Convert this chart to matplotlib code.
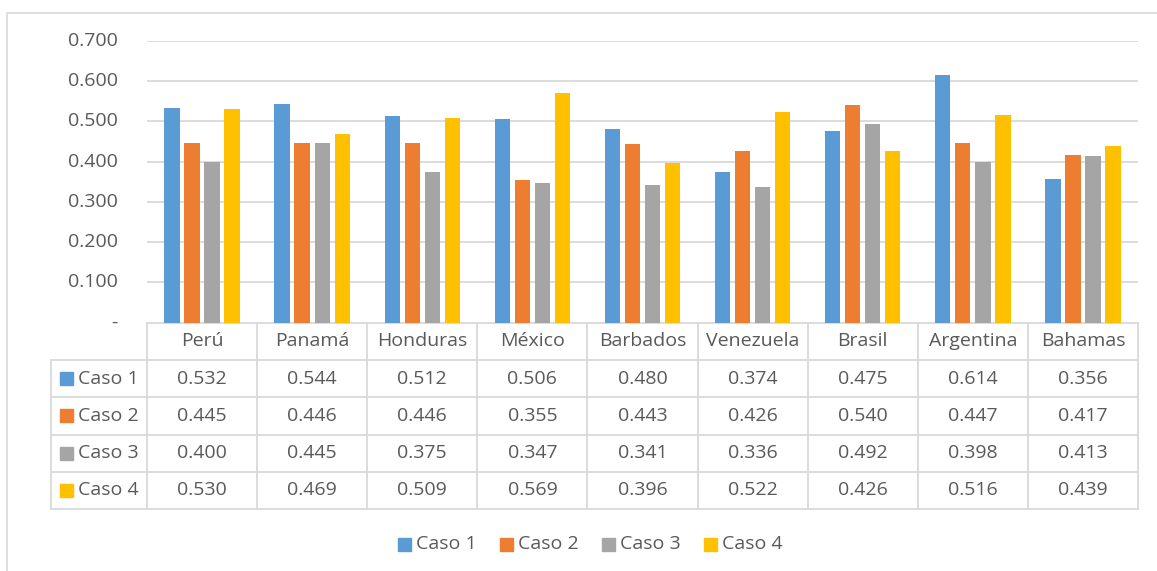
import matplotlib
matplotlib.use("Agg")
import matplotlib.pyplot as plt
from matplotlib.transforms import blended_transform_factory
from matplotlib.patches import Rectangle
import numpy as np

countries = ["Perú", "Panamá", "Honduras", "México", "Barbados", "Venezuela", "Brasil", "Argentina", "Bahamas"]
series_names = ["Caso 1", "Caso 2", "Caso 3", "Caso 4"]
caso1 = [0.532, 0.544, 0.512, 0.506, 0.480, 0.374, 0.475, 0.614, 0.356]
caso2 = [0.445, 0.446, 0.446, 0.355, 0.443, 0.426, 0.540, 0.447, 0.417]
caso3 = [0.400, 0.445, 0.375, 0.347, 0.341, 0.336, 0.492, 0.398, 0.413]
caso4 = [0.530, 0.469, 0.509, 0.569, 0.396, 0.522, 0.426, 0.516, 0.439]
yticks = [0.0, 0.1, 0.2, 0.3, 0.4, 0.5, 0.6, 0.7]
ytick_labels = ["-", "0.100", "0.200", "0.300", "0.400", "0.500", "0.600", "0.700"]

colors = ["#5B9BD5", "#ED7D31", "#A5A5A5", "#FFC000"]
txt = "#595959"
grid = "#D9D9D9"
FONT = "Open Sans"
FS = 14

W, H = 1157, 571
fig = plt.figure(figsize=(W / 100, H / 100), dpi=100)

# overlay in pixel coords
ov = fig.add_axes([0, 0, 1, 1])
ov.set_xlim(0, W)
ov.set_ylim(H, 0)
ov.axis("off")

# chart border
ov.plot([7, 7, W + 5], [H + 5, 13, 13], color=grid, lw=1.2, clip_on=False)

# bar axes
x0, x1 = 147, 1138
ytop, ybot = 40.7, 322.7
ax = fig.add_axes([x0 / W, 1 - ybot / H, (x1 - x0) / W, (ybot - ytop) / H])
ax.set_xlim(0, len(countries))
ax.set_ylim(0, 0.7)
ax.patch.set_alpha(0)
for s in ax.spines.values():
    s.set_visible(False)
ax.set_yticks(yticks)
ax.set_yticklabels([])
ax.tick_params(length=0)
ax.set_xticks([])
for y in yticks[1:]:
    ax.axhline(y, color=grid, lw=1.3, zorder=0)

data = [caso1, caso2, caso3, caso4]
bw = 0.139
step = 0.182
xc = np.arange(len(countries)) + 0.5
for i, vals in enumerate(data):
    ax.bar(xc + (i - 1.5) * step, vals, width=bw, color=colors[i], zorder=2)

# y tick labels
tr_y = blended_transform_factory(ov.transData, ax.transData)
for y, lab in zip(yticks, ytick_labels):
    ov.text(118, y, lab, transform=tr_y, ha="right", va="center",
            fontsize=FS, color=txt, family=FONT)

# data table
tr_x = blended_transform_factory(ax.transData, ov.transData)
rows_y = [322.7, 360, 397.3, 434.5, 471.7, 509]
left_x = 51
n = len(countries)
lw = 1.3
# horizontal lines
ov.plot([0, n], [rows_y[0]] * 2, transform=tr_x, color=grid, lw=lw)
for ry in rows_y[1:]:
    ov.plot([left_x, x1], [ry, ry], color=grid, lw=lw)
# vertical lines
for k in range(n + 1):
    ov.plot([k, k], [rows_y[0], rows_y[-1]], transform=tr_x, color=grid, lw=lw)
ov.plot([left_x, left_x], [rows_y[1], rows_y[-1]], color=grid, lw=lw)

for k, c in enumerate(countries):
    ov.text(k + 0.5, (rows_y[0] + rows_y[1]) / 2, c, transform=tr_x, ha="center",
            va="center", fontsize=FS, color=txt, family=FONT)
for r, (name, vals) in enumerate(zip(series_names, data)):
    yc = (rows_y[r + 1] + rows_y[r + 2]) / 2
    ov.add_patch(Rectangle((60, yc - 6.5), 13, 13, color=colors[r]))
    ov.text(78, yc, name, ha="left", va="center", fontsize=FS, color=txt, family=FONT)
    for k, v in enumerate(vals):
        ov.text(k + 0.5, yc, f"{v:.3f}", transform=tr_x, ha="center", va="center",
                fontsize=FS, color=txt, family=FONT)

# legend
leg_y = 544
leg_x = [398, 500, 602, 704]
for i, name in enumerate(series_names):
    ov.add_patch(Rectangle((leg_x[i], leg_y - 6.5), 13, 13, color=colors[i]))
    ov.text(leg_x[i] + 18, leg_y, name, ha="left", va="center", fontsize=FS,
            color=txt, family=FONT)

fig.savefig("out.png", dpi=100)
